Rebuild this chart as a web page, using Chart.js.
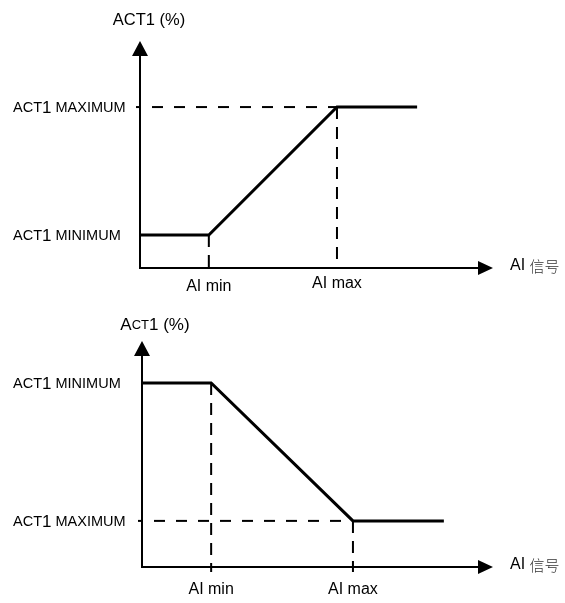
<!DOCTYPE html>
<html><head><meta charset="utf-8">
<script src="https://cdn.jsdelivr.net/npm/chart.js@4/dist/chart.umd.min.js"></script>
<style>
html,body{margin:0;padding:0;background:#fff;}
body{width:565px;height:603px;overflow:hidden;position:relative;}
canvas{position:absolute;left:0;}
</style>
</head><body>
<canvas id="c1" width="565" height="300" style="top:0px"></canvas>
<canvas id="c2" width="565" height="303" style="top:300px"></canvas>
<script>
// ---- data ----
const xTickLabels = ['AI min', 'AI max'];
const xAxisLabel = ['AI', '信号'];
const topYLabels = ['ACT1 MINIMUM', 'ACT1 MAXIMUM'];
const botYLabels = ['ACT1 MINIMUM', 'ACT1 MAXIMUM'];
const topTitle = 'ACT1 (%)';
const botTitle = 'Act1 (%)';
// top chart: AI min, AI max break points and output levels
const topX = [0, 19.5, 55.8, 78.5];
const topY = [14.5, 14.5, 70.9, 70.9];
// bottom chart
const botX = [0, 19.7, 60.1, 86.0];
const botY = [81.4, 81.4, 20.4, 20.4];

const FONT = "'Liberation Sans', Arial, sans-serif";
const CJK = "'Noto Sans CJK SC', sans-serif";

function pts(xs, ys) { return xs.map((x, i) => ({x: x, y: ys[i]})); }

function drawRich(ctx, parts, x, y, align) {
  let w = 0;
  parts.forEach(p => { ctx.font = p.f; w += ctx.measureText(p.t).width; });
  let cx = align === 'center' ? x - w / 2 : (align === 'right' ? x - w : x);
  ctx.textBaseline = 'middle';
  ctx.textAlign = 'left';
  parts.forEach(p => { ctx.font = p.f; ctx.fillStyle = p.c || '#000'; ctx.fillText(p.t, cx, y + (p.dy || 0)); cx += ctx.measureText(p.t).width; });
}

function smallCapsLabel(label) {
  // "ACT1 MAXIMUM" -> small caps letters with a larger "1"
  const i = label.indexOf('1');
  return [
    {t: label.slice(0, i), f: '14.5px ' + FONT},
    {t: '1', f: '17px ' + FONT},
    {t: label.slice(i + 1), f: '14.5px ' + FONT}
  ];
}

function makeChart(id, xs, ys, yLabels, titleParts, pad, cfg) {
  const xMin = xs[1], xMax = xs[2];
  const yHigh = Math.max(ys[0], ys[3]), yLow = Math.min(ys[0], ys[3]);
  const hDash = {borderColor: '#000', borderWidth: 2, borderDash: [11, 11], pointRadius: 0, showLine: true, fill: false, tension: 0};
  const vDash = Object.assign({}, hDash, {borderDash: [12, 8]});
  const datasets = [
    {data: pts(xs, ys), borderColor: '#000', borderWidth: 3, pointRadius: 0, showLine: true, fill: false, tension: 0, borderCapStyle: 'butt', borderJoinStyle: 'miter'},
    Object.assign({data: [{x: 0, y: cfg.hDashY}, {x: cfg.hDashX, y: cfg.hDashY}], borderDashOffset: cfg.hOff}, hDash),
    Object.assign({data: [{x: xMin, y: cfg.v1Top}, {x: xMin, y: 0}], borderDashOffset: cfg.v1Off}, vDash),
    Object.assign({data: [{x: xMax, y: cfg.v2Top}, {x: xMax, y: 0}], borderDashOffset: cfg.v2Off}, vDash)
  ];
  const decor = {
    id: 'decor',
    beforeDatasetsDraw(chart) {
      const ctx = chart.ctx, xs_ = chart.scales.x, ys_ = chart.scales.y;
      const ox = xs_.getPixelForValue(0), oy = ys_.getPixelForValue(0);
      const tx = xs_.getPixelForValue(100), ty = ys_.getPixelForValue(100);
      ctx.save();
      ctx.strokeStyle = '#000'; ctx.fillStyle = '#000'; ctx.lineWidth = 2;
      ctx.beginPath();
      ctx.moveTo(ox, ty + 12); ctx.lineTo(ox, oy); ctx.lineTo(tx - 12, oy);
      ctx.stroke();
      // arrow heads
      ctx.beginPath(); ctx.moveTo(ox, ty); ctx.lineTo(ox - 8, ty + 15); ctx.lineTo(ox + 8, ty + 15); ctx.closePath(); ctx.fill();
      ctx.beginPath(); ctx.moveTo(tx, oy); ctx.lineTo(tx - 15, oy - 7); ctx.lineTo(tx - 15, oy + 7); ctx.closePath(); ctx.fill();
      // small tick marks
      ctx.lineWidth = 2;
      (cfg.yTicks || []).forEach(v => { const py = ys_.getPixelForValue(v); ctx.beginPath(); ctx.moveTo(ox - 4, py); ctx.lineTo(ox, py); ctx.stroke(); });
      (cfg.xTicks || []).forEach(v => { const px = xs_.getPixelForValue(v); ctx.beginPath(); ctx.moveTo(px, oy); ctx.lineTo(px, oy + 5); ctx.stroke(); });
      ctx.restore();
    },
    afterDraw(chart) {
      const ctx = chart.ctx, xs_ = chart.scales.x, ys_ = chart.scales.y;
      const ox = xs_.getPixelForValue(0), oy = ys_.getPixelForValue(0);
      const tx = xs_.getPixelForValue(100), ty = ys_.getPixelForValue(100);
      ctx.save();
      // title
      drawRich(ctx, titleParts, ox + cfg.titleDx, ty + cfg.titleDy, 'center');
      // y labels (first = lower level, second = upper level)
      drawRich(ctx, smallCapsLabel(yLabels[0]), 13, ys_.getPixelForValue(yLow) + 1, 'left');
      drawRich(ctx, smallCapsLabel(yLabels[1]), 13, ys_.getPixelForValue(yHigh) + 1, 'left');
      // x labels
      ctx.font = '16px ' + FONT; ctx.textAlign = 'center'; ctx.textBaseline = 'middle'; ctx.fillStyle = '#000';
      ctx.fillText(xTickLabels[0], xs_.getPixelForValue(xMin), oy + cfg.xLblDy[0]);
      ctx.fillText(xTickLabels[1], xs_.getPixelForValue(xMax), oy + cfg.xLblDy[1]);
      // x axis label
      drawRich(ctx, [{t: xAxisLabel[0] + ' ', f: '16px ' + FONT}, {t: xAxisLabel[1], f: '300 15px ' + CJK, c: '#333'}], tx + 17, oy - 2, 'left');
      ctx.restore();
    }
  };
  return new Chart(document.getElementById(id), {
    type: 'scatter',
    data: {datasets: datasets},
    options: {
      responsive: false, animation: false, devicePixelRatio: 1,
      layout: {padding: pad},
      plugins: {legend: {display: false}, tooltip: {enabled: false}},
      scales: {
        x: {type: 'linear', min: 0, max: 100, display: false},
        y: {type: 'linear', min: 0, max: 100, display: false}
      }
    },
    plugins: [decor]
  });
}

// top chart: rising characteristic; lower = ACT1 MINIMUM, upper = ACT1 MAXIMUM
makeChart('c1', topX, topY, [topYLabels[0], topYLabels[1]],
  [{t: topTitle, f: '16.5px ' + FONT}],
  {left: 140, right: 72, top: 41, bottom: 32},
  {hDashY: topY[3], hDashX: topX[2], hOff: 10, v1Top: topY[1], v1Off: 0, v2Top: topY[2], v2Off: 0,
   yTicks: [topY[3]], xTicks: [], titleDx: 9, titleDy: -21, xLblDy: [19, 16]});

// bottom chart: falling characteristic; lower = ACT1 MAXIMUM, upper = ACT1 MINIMUM
makeChart('c2', botX, botY, [botYLabels[1], botYLabels[0]],
  [{t: botTitle.charAt(0), f: '17px ' + FONT}, {t: botTitle.slice(1, 3).toUpperCase(), f: '13px ' + FONT}, {t: botTitle.slice(3), f: '17px ' + FONT}],
  {left: 142, right: 72, top: 41, bottom: 36},
  {hDashY: botY[3], hDashX: botX[2], hOff: 10, v1Top: botY[1], v1Off: 0, v2Top: botY[2], v2Off: 0,
   yTicks: [botY[3]], xTicks: [botX[1], botX[2]], titleDx: 13, titleDy: -16, xLblDy: [23, 23]});
</script>
</body></html>
